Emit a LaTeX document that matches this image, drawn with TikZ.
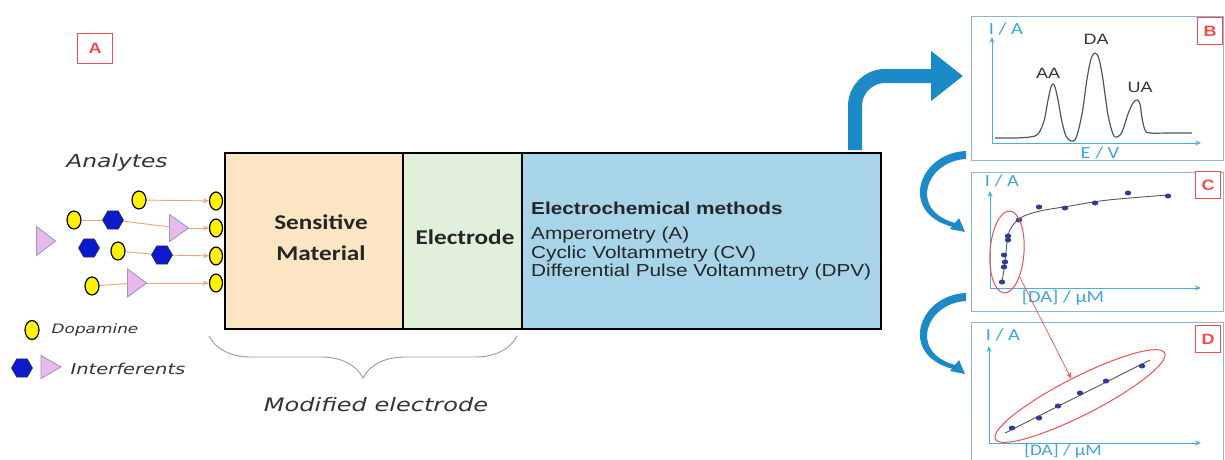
\documentclass[tikz,border=0pt]{standalone}
\usepackage{fontspec}
\setmainfont{Liberation Sans}[FakeStretch=1.2]
\newfontfamily\calib{Carlito}[FakeStretch=1.2]
\newfontfamily\comic{DejaVu Sans}[FakeStretch=1.3]
\usetikzlibrary{shapes.geometric,arrows.meta,decorations.pathreplacing,backgrounds}
\newcommand\fsz[1]{\fontsize{#1}{#1}\selectfont}
\definecolor{sens}{HTML}{FCE5C2}
\definecolor{elec}{HTML}{E0F0DA}
\definecolor{ecb}{HTML}{A8D4EA}
\definecolor{dopy}{HTML}{FFF200}
\definecolor{hexb}{HTML}{0A1ACC}
\definecolor{trip}{HTML}{EBB8EC}
\definecolor{trib}{HTML}{8E9CCB}
\definecolor{oran}{HTML}{F5A071}
\definecolor{comicc}{HTML}{33333F}
\definecolor{arrb}{HTML}{1C8AC6}
\definecolor{panb}{HTML}{8DB7D7}
\definecolor{axc}{HTML}{45AEE3}
\definecolor{axtc}{HTML}{3FA4DA}
\definecolor{redc}{HTML}{F04E4E}
\definecolor{ptc}{HTML}{2E3D99}
\definecolor{pkc}{HTML}{333333}
\definecolor{curvc}{HTML}{555555}
\newcommand\mktri[5]{%
  \node[tan] (#1) at (#2,#3) {};
  \draw[tri] (#2-#4/2,#3-#5/2) -- (#2+#4/2,#3) -- (#2-#4/2,#3+#5/2) -- cycle;}
\begin{document}
\begin{tikzpicture}[x=1pt,y=-1pt,
  box/.style={draw=black, line width=1.8pt, anchor=north west, inner sep=0, minimum height=176},
  dop/.style={ellipse, draw=black, line width=1.2pt, fill=dopy, minimum width=13, minimum height=18, inner sep=0},
  hexa/.style={regular polygon, regular polygon sides=6, draw=black!80, line width=.6pt, fill=hexb, minimum size=21, inner sep=0},
  tri/.style={draw=trib, line width=.9pt, fill=trip},
  tan/.style={circle, inner sep=0, minimum size=17},
  oarr/.style={draw=oran, line width=.9pt, -{Stealth[length=6pt,width=5pt]}},
  oln/.style={draw=oran, line width=.9pt},
  comictxt/.style={font=\comic\itshape\fsz{18}, text=comicc, inner sep=0},
  boldtxt/.style={font=\calib\bfseries\fsz{21}, text=black!85, inner sep=0},
  ectxt/.style={font=\fsz{17.3}, text=black!85, anchor=west, inner sep=0},
  panel/.style={draw=panb, line width=1pt},
  lab/.style={draw=redc, line width=.9pt, text=redc, font=\bfseries\fsz{15}, inner sep=0, minimum width=25, minimum height=27, fill=white},
  axis/.style={draw=axc, line width=1pt, -{Stealth[length=6pt,width=5pt]}},
  axlab/.style={text=axtc, font=\calib\fsz{17}, inner sep=0},
  pk/.style={text=pkc, font=\fsz{15}, inner sep=0},
  pt/.style={ellipse, fill=ptc, inner sep=0, minimum width=6.5, minimum height=5},
  redell/.style={ellipse, draw=redc, line width=1pt, inner sep=0},
  redarr/.style={draw=redc, line width=.7pt, -{Stealth[length=6pt,width=5pt]}},
]
\path[use as bounding box] (0,0) rectangle (1225,460);

% label A
\node[lab, minimum width=35, minimum height=30] (labA) at (95,48) {A};

% main boxes
\node[box, fill=sens, minimum width=178] (sm) at (224,152) {};
\node[box, fill=elec, minimum width=119] (el) at (402,152) {};
\node[box, fill=ecb, minimum width=359] (ec) at (521,152) {};
\node[boldtxt] (smt1) at (321,222) {Sensitive};
\node[boldtxt] (smt2) at (321,253) {Material};
\node[boldtxt] (elt) at (465,237) {Electrode};
\node[ectxt, font=\bfseries\fsz{17.3}] (ec0) at (531,208) {Electrochemical methods};
\node[ectxt] (ec1) at (531,235) {Amperometry (A)};
\node[ectxt] (ec2) at (531,254) {Cyclic Voltammetry (CV)};
\node[ectxt] (ec3) at (531,272) {Differential Pulse Voltammetry (DPV)};

% analytes
\node[comictxt] (anl) at (117,163) {Analytes};
\node[dop] (e1) at (216,201) {};
\node[dop] (e2) at (216,228) {};
\node[dop] (e3) at (216,256) {};
\node[dop] (e4) at (216,283) {};
\node[dop, minimum width=14] (y1) at (139,200) {};
\node[dop, minimum width=14] (y2) at (74,220) {};
\node[dop, minimum width=14] (y3) at (118,251) {};
\node[dop, minimum width=14] (y4) at (92,286) {};
\node[hexa] (h1) at (113,220) {};
\node[hexa] (h2) at (89,248) {};
\node[hexa] (h3) at (162,255) {};
\mktri{t1}{179}{228}{19}{27}
\mktri{t2}{46}{241}{19}{29}
\mktri{t3}{137}{283}{19}{28}

\begin{pgfonlayer}{background}
\draw[oarr] (y1) -- (e1);
\draw[oln] (y2) -- (h1);
\draw[oln] (h1) -- (t1);
\draw[oarr] (t1) -- (e2);
\draw[oln] (y3) -- (h3);
\draw[oarr] (h3) -- (e3);
\draw[oln] (y4) -- (t3);
\draw[oarr] (t3) -- (e4);
\end{pgfonlayer}

% legend
\node[dop, minimum width=14, minimum height=19] (ly) at (32,330) {};
\node[comictxt, font=\comic\itshape\fsz{13}] (lyt) at (95,330) {Dopamine};
\node[hexa] (lh) at (22,368) {};
\mktri{lt}{51}{367}{20}{23}
\node[comictxt, font=\comic\itshape\fsz{15}] (ltt) at (128,369) {Interferents};

% brace
\draw[decorate, decoration={brace, amplitude=42pt, aspect=0.5}, draw=gray!80, line width=.9pt] (517,336) -- (209,336);
\node[comictxt, font=\comic\itshape\fsz{18.5}] (mod) at (376,405) {Modified electrode};

% big blue arrow
\coordinate (bs) at (855,150);
\coordinate (be) at (963,76);
\draw[draw=arrb, line width=14pt, rounded corners=30pt, -{Triangle[length=32pt,width=48pt]}] (bs) |- (be);

% curved arrows
\foreach \d in {0,142} {
  \fill[arrb] (966,151+\d) .. controls (918,153+\d) and (898,213+\d) .. (953,227+\d)
     -- (955,223+\d) .. controls (908,210+\d) and (926,161+\d) .. (966,159+\d) -- cycle;
  \fill[arrb] (959,218+\d) -- (965,232+\d) -- (950,229+\d) -- cycle;
}

% panel B
\draw[panel] (971,17) rectangle (1223,160);
\node[lab, anchor=north east] (labB) at (1223,17) {B};
\coordinate (bo) at (992,143);
\draw[axis] (bo) -- (992,37);
\draw[axis] (bo) -- (1201,143);
\node[axlab] (bI) at (1006,29) {I / A};
\node[axlab] (bE) at (1100,153) {E / V};
\draw[curvc, line width=1.2pt] plot[smooth, tension=0.55] coordinates {
 (995,138) (1015,138) (1030,137) (1038,134) (1044,121) (1048,100) (1051,87) (1053,84)
 (1055,87) (1058,100) (1062,122) (1066,136) (1071,141) (1076,138) (1082,114) (1087,79)
 (1091,59) (1095,53) (1099,59) (1103,80) (1108,115) (1113,134) (1117,137) (1122,132)
 (1128,114) (1133,103) (1137,100) (1140,104) (1142,118) (1145,130) (1150,133) (1170,133) (1192,133)};
\node[pk] (pAA) at (1048,73) {AA};
\node[pk] (pDA) at (1096,39) {DA};
\node[pk] (pUA) at (1140,87) {UA};

% panel C
\draw[panel] (971,172) rectangle (1223,311);
\node[lab, anchor=north east] (labC) at (1221,171) {C};
\coordinate (co) at (990,288);
\draw[axis] (co) -- (990,191);
\draw[axis] (co) -- (1201,288);
\node[axlab] (cI) at (1002,181) {I / A};
\node[axlab] (cx) at (1063,298) {[DA] / μM};
\draw[curvc, line width=.9pt] plot[smooth, tension=0.6] coordinates {
 (1002,282) (1005,262) (1008,236) (1013,225) (1022,217) (1040,211) (1070,206) (1100,201) (1130,198) (1168,195)};
\foreach \p/\q in {1002/282,1004/267,1005/262,1004/255,1008/240,1008/236,1019/220,1039/207,1065/208,1095/203,1128/193,1168/196}
  \node[pt] at (\p,\q) {};
\node[redell, minimum width=34, minimum height=82, rotate=-4] (ellC) at (1007,252) {};

% panel D
\draw[panel] (971,322) rectangle (1223,470);
\node[lab, anchor=north east] (labD) at (1221,325) {D};
\coordinate (do) at (989,443);
\draw[axis] (do) -- (989,346);
\draw[axis] (do) -- (1201,443);
\node[axlab] (dI) at (1003,335) {I / A};
\node[axlab, font=\calib\fsz{16}] (dx) at (1063,451) {[DA] / μM};
\draw[curvc, line width=.9pt] (1005,433) -- (1150,360);
\foreach \p/\q in {1012/428,1039/418,1058/406,1080/393,1106/381,1142/366}
  \node[pt] at (\p,\q) {};
\node[redell, minimum width=190, minimum height=38, rotate=27] (ellD) at (1080,396) {};
\draw[redarr] (ellC) -- (ellD);
\end{tikzpicture}
\end{document}
